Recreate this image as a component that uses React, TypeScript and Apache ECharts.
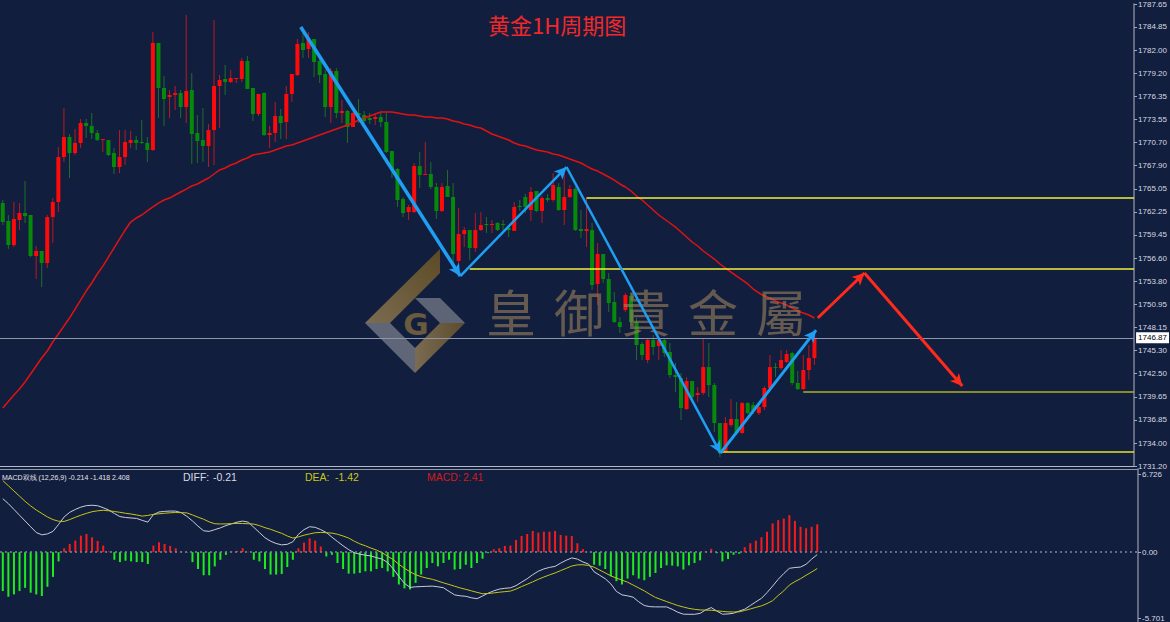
import React, { useEffect, useRef } from 'react';
import * as echarts from 'echarts';

// ---------- DATA ----------
const priceTicks = [1731.2, 1734.0, 1736.85, 1739.65, 1742.5, 1745.3, 1748.15, 1750.95, 1753.8, 1756.6, 1759.45, 1762.25, 1765.05, 1767.9, 1770.7, 1773.55, 1776.35, 1779.2, 1782.0, 1784.85, 1787.65];
const macdTicks = [-5.701, 0, 6.726];
const currentPrice = 1746.87;

// [open, high, low, close]
const candles: number[][] = [
  [1763.33, 1763.70, 1760.64, 1761.01], [1761.13, 1761.87, 1757.71, 1758.20], [1758.20, 1763.46, 1757.96, 1761.38], [1761.26, 1763.33, 1760.03, 1762.11], [1762.11, 1766.02, 1760.89, 1761.74],
  [1761.87, 1761.87, 1756.73, 1756.86], [1756.86, 1758.08, 1754.05, 1757.47], [1757.47, 1757.47, 1753.07, 1756.00], [1756.00, 1761.87, 1755.39, 1761.62], [1761.62, 1763.94, 1758.45, 1763.46],
  [1763.46, 1770.18, 1762.23, 1768.95], [1768.95, 1774.94, 1768.34, 1771.40], [1771.40, 1771.77, 1766.39, 1769.44], [1769.44, 1772.38, 1769.20, 1770.67], [1770.67, 1773.60, 1770.05, 1773.11],
  [1773.11, 1773.60, 1771.28, 1772.74], [1772.74, 1774.33, 1771.15, 1771.89], [1771.89, 1772.25, 1770.91, 1771.03], [1771.03, 1771.15, 1769.57, 1771.15], [1771.03, 1771.03, 1769.08, 1769.20],
  [1769.44, 1770.05, 1766.88, 1767.73], [1767.73, 1772.25, 1767.00, 1768.95], [1768.95, 1772.25, 1767.98, 1770.79], [1770.67, 1772.13, 1770.05, 1771.03], [1771.03, 1771.52, 1769.81, 1770.67],
  [1770.79, 1773.48, 1770.54, 1770.67], [1770.67, 1771.40, 1768.34, 1769.81], [1769.81, 1784.23, 1769.70, 1782.89], [1782.89, 1782.89, 1773.72, 1777.39], [1777.39, 1778.85, 1772.74, 1776.04],
  [1776.29, 1777.14, 1773.72, 1776.53], [1776.53, 1777.63, 1774.70, 1776.77], [1776.77, 1777.14, 1773.72, 1775.06], [1775.06, 1786.31, 1773.11, 1777.02], [1777.14, 1779.22, 1768.10, 1771.77],
  [1771.89, 1774.09, 1768.22, 1770.91], [1771.03, 1774.94, 1768.34, 1770.30], [1770.30, 1772.99, 1767.73, 1772.25], [1772.25, 1785.70, 1767.98, 1777.63], [1777.63, 1778.97, 1772.50, 1778.36],
  [1778.49, 1780.20, 1776.53, 1778.12], [1778.12, 1779.59, 1778.00, 1778.61], [1778.49, 1778.61, 1778.00, 1778.61], [1778.49, 1781.05, 1778.12, 1780.69], [1780.69, 1781.30, 1777.26, 1777.26],
  [1777.39, 1777.39, 1773.35, 1774.21], [1774.21, 1776.65, 1773.96, 1776.65], [1776.77, 1776.90, 1771.52, 1771.64], [1771.64, 1772.74, 1770.05, 1771.89], [1771.89, 1775.68, 1770.79, 1773.96],
  [1773.96, 1774.82, 1771.15, 1773.11], [1773.23, 1777.63, 1771.15, 1776.65], [1776.65, 1779.10, 1775.68, 1779.10], [1778.97, 1783.37, 1778.85, 1782.76], [1782.89, 1784.11, 1781.05, 1782.03],
  [1782.15, 1784.23, 1781.05, 1783.37], [1783.37, 1783.37, 1778.73, 1780.56], [1780.69, 1781.17, 1778.00, 1778.97], [1779.10, 1779.59, 1773.84, 1775.06], [1775.06, 1779.83, 1773.11, 1779.46],
  [1779.46, 1779.83, 1773.72, 1774.33], [1774.33, 1775.92, 1773.11, 1774.58], [1774.58, 1774.70, 1770.67, 1772.62], [1772.62, 1774.45, 1772.62, 1774.33], [1774.33, 1776.04, 1773.11, 1774.09],
  [1774.09, 1774.58, 1773.11, 1773.35], [1773.72, 1774.33, 1772.99, 1773.48], [1773.60, 1774.21, 1772.87, 1773.84], [1773.84, 1774.33, 1772.62, 1773.23], [1773.23, 1774.33, 1769.44, 1769.57],
  [1769.69, 1769.69, 1766.39, 1767.49], [1767.49, 1767.61, 1762.85, 1763.70], [1763.82, 1764.07, 1761.62, 1762.11], [1762.23, 1763.09, 1761.26, 1762.85], [1762.23, 1768.22, 1762.11, 1767.85],
  [1767.85, 1769.57, 1765.17, 1766.76], [1766.76, 1770.79, 1766.76, 1766.88], [1766.88, 1768.34, 1765.04, 1765.29], [1765.29, 1765.78, 1761.38, 1762.36], [1762.36, 1765.78, 1762.23, 1765.29],
  [1765.41, 1767.37, 1764.07, 1764.07], [1764.07, 1765.78, 1756.00, 1757.10], [1756.25, 1762.72, 1755.51, 1759.54], [1759.54, 1760.40, 1757.96, 1760.03], [1760.03, 1760.03, 1756.37, 1757.83],
  [1757.83, 1762.11, 1757.35, 1760.03], [1760.03, 1762.23, 1759.91, 1760.64], [1760.77, 1761.62, 1759.67, 1760.64], [1760.64, 1761.26, 1759.67, 1760.77], [1760.89, 1761.01, 1759.91, 1760.03],
  [1760.77, 1761.26, 1760.03, 1760.64], [1760.28, 1760.64, 1759.18, 1760.03], [1759.91, 1763.46, 1759.91, 1762.85], [1762.97, 1763.70, 1762.36, 1762.85], [1764.07, 1764.43, 1762.11, 1762.85],
  [1762.48, 1765.29, 1761.13, 1764.68], [1764.80, 1764.80, 1762.23, 1762.36], [1762.36, 1764.19, 1760.89, 1763.94], [1763.94, 1764.43, 1763.46, 1763.70], [1763.70, 1767.00, 1763.46, 1765.53],
  [1765.29, 1765.78, 1762.36, 1762.48], [1762.48, 1767.37, 1760.64, 1764.07], [1764.07, 1765.53, 1763.94, 1765.04], [1765.04, 1765.29, 1759.91, 1760.03], [1760.16, 1762.48, 1759.06, 1759.91],
  [1759.91, 1763.94, 1757.96, 1760.16], [1760.03, 1760.89, 1752.70, 1753.31], [1753.44, 1758.45, 1750.87, 1757.10], [1757.10, 1757.10, 1753.56, 1754.05], [1754.05, 1754.78, 1750.01, 1751.11],
  [1751.24, 1752.46, 1748.67, 1748.79], [1748.79, 1749.40, 1747.45, 1748.18], [1750.26, 1752.34, 1750.01, 1752.09], [1751.97, 1752.34, 1748.42, 1748.79], [1748.79, 1749.28, 1744.15, 1745.98],
  [1746.10, 1746.35, 1744.15, 1744.76], [1744.15, 1746.71, 1743.78, 1746.59], [1746.59, 1747.20, 1744.76, 1745.74], [1745.86, 1746.96, 1744.15, 1746.59], [1746.59, 1746.84, 1744.51, 1745.00],
  [1745.13, 1746.23, 1741.95, 1742.32], [1742.32, 1743.78, 1740.24, 1742.07], [1741.95, 1742.56, 1736.82, 1738.28], [1738.16, 1742.07, 1738.04, 1741.58], [1741.58, 1741.58, 1739.26, 1739.63],
  [1739.87, 1740.85, 1739.02, 1740.12], [1740.12, 1746.71, 1739.87, 1743.29], [1743.29, 1746.23, 1739.63, 1741.09], [1741.09, 1741.34, 1735.35, 1736.45], [1736.45, 1736.45, 1732.29, 1732.78],
  [1732.91, 1737.18, 1732.78, 1736.45], [1736.21, 1739.38, 1735.96, 1736.94], [1736.94, 1739.02, 1734.98, 1735.23], [1735.23, 1739.02, 1735.11, 1738.89], [1738.89, 1739.02, 1737.55, 1737.67],
  [1738.65, 1739.02, 1737.55, 1737.91], [1737.67, 1738.65, 1737.43, 1738.40], [1738.40, 1740.97, 1738.04, 1740.73], [1740.73, 1744.76, 1740.48, 1743.29], [1743.29, 1743.78, 1742.07, 1743.17],
  [1743.17, 1745.37, 1742.93, 1744.15], [1743.90, 1745.37, 1743.78, 1744.88], [1745.00, 1745.13, 1741.09, 1741.34], [1741.34, 1742.81, 1740.48, 1740.60], [1740.60, 1744.76, 1740.48, 1742.93],
  [1742.93, 1745.98, 1741.71, 1744.39], [1744.39, 1747.57, 1743.54, 1746.87],
];

const ma = [1738.28, 1739.08, 1739.87, 1740.60, 1741.46, 1742.44, 1743.42, 1744.39, 1745.25, 1746.35,
  1747.33, 1748.30, 1749.28, 1750.38, 1751.48, 1752.58, 1753.56, 1754.66, 1755.63, 1756.73,
  1757.83, 1758.93, 1760.03, 1761.01, 1761.50, 1761.87, 1762.36, 1762.85, 1763.33, 1763.70,
  1763.94, 1764.31, 1764.68, 1765.04, 1765.41, 1765.66, 1766.02, 1766.39, 1766.88, 1767.37,
  1767.61, 1767.98, 1768.22, 1768.59, 1768.83, 1769.20, 1769.32, 1769.44, 1769.57, 1769.81,
  1770.05, 1770.30, 1770.42, 1770.67, 1770.91, 1771.15, 1771.40, 1771.64, 1771.89, 1772.13,
  1772.38, 1772.62, 1772.87, 1773.11, 1773.48, 1773.72, 1773.96, 1774.21, 1774.45, 1774.45,
  1774.45, 1774.33, 1774.21, 1774.09, 1774.09, 1773.96, 1773.84, 1773.84, 1773.72, 1773.72,
  1773.60, 1773.35, 1773.23, 1772.99, 1772.87, 1772.62, 1772.50, 1772.13, 1771.77, 1771.52,
  1771.28, 1771.03, 1770.67, 1770.42, 1770.30, 1770.05, 1769.81, 1769.69, 1769.57, 1769.32,
  1769.20, 1768.95, 1768.71, 1768.47, 1768.22, 1767.85, 1767.49, 1767.24, 1766.88, 1766.51,
  1766.14, 1765.66, 1765.29, 1764.80, 1764.19, 1763.70, 1763.09, 1762.48, 1761.87, 1761.38,
  1760.89, 1760.40, 1759.79, 1759.18, 1758.57, 1758.08, 1757.47, 1756.98, 1756.49, 1755.88,
  1755.39, 1754.90, 1754.41, 1753.93, 1753.44, 1752.82, 1752.34, 1751.97, 1751.73, 1751.36,
  1751.11, 1750.87, 1750.50, 1750.14, 1749.89, 1749.65, 1749.28];

const macdHist = [-3.37, -3.86, -3.66, -3.37, -3.09, -3.51, -3.66, -3.80, -3.00, -2.14,
  -0.80, 0.34, 0.71, 1.00, 1.43, 1.57, 1.29, 0.97, 0.57, 0.06,
  -0.66, -0.86, -0.74, -0.80, -0.86, -0.86, -1.03, 0.57, 0.86, 0.71,
  0.54, 0.34, 0.06, -0.03, -0.86, -1.46, -2.00, -2.00, -1.23, -0.66,
  -0.23, 0.06, 0.11, 0.34, 0.03, -0.66, -0.80, -1.46, -1.94, -1.94,
  -1.89, -1.29, -0.66, 0.34, 0.83, 1.20, 1.00, 0.49, -0.37, -0.23,
  -0.94, -1.46, -1.86, -1.86, -1.80, -1.66, -1.66, -1.46, -1.37, -1.66,
  -2.14, -2.80, -3.14, -3.23, -2.66, -1.94, -1.37, -0.94, -1.23, -0.94,
  -0.66, -1.51, -1.46, -1.09, -1.37, -0.94, -0.57, -0.09, 0.26, 0.34,
  0.54, 0.57, 1.06, 1.40, 1.57, 1.83, 1.69, 1.77, 1.77, 1.83,
  1.49, 1.43, 1.40, 0.77, 0.26, 0.03, -1.09, -1.17, -1.46, -2.09,
  -2.51, -2.80, -2.29, -2.00, -2.29, -2.43, -2.14, -1.80, -1.37, -1.14,
  -1.17, -1.23, -1.51, -1.14, -0.94, -0.71, 0.06, 0.29, -0.09, -0.80,
  -0.60, -0.23, -0.14, 0.43, 0.77, 1.00, 1.29, 1.77, 2.49, 2.77,
  2.91, 3.20, 2.71, 2.20, 2.06, 2.20, 2.41];

const diff = [4.63, 4.20, 3.70, 3.20, 2.70, 2.20, 1.70, 1.50, 1.58, 1.80,
  2.40, 3.05, 3.45, 3.70, 3.90, 4.03, 4.06, 4.02, 3.85, 3.65,
  3.35, 3.08, 3.00, 2.96, 2.92, 2.75, 2.60, 3.25, 3.48, 3.53,
  3.56, 3.55, 3.42, 3.10, 2.70, 2.25, 1.85, 1.80, 1.95, 2.10,
  2.30, 2.45, 2.60, 2.69, 2.60, 2.15, 1.70, 1.25, 0.95, 0.75,
  0.63, 0.68, 0.90, 1.55, 1.95, 2.20, 2.15, 1.95, 1.70, 1.30,
  0.92, 0.55, 0.22, -0.05, -0.18, -0.26, -0.33, -0.48, -0.60, -0.90,
  -1.45, -2.10, -2.70, -3.05, -3.00, -2.98, -2.96, -2.94, -3.00, -3.08,
  -3.40, -3.70, -3.78, -3.82, -3.95, -4.03, -3.80, -3.55, -3.35, -3.20,
  -3.13, -3.09, -2.90, -2.60, -2.30, -1.95, -1.65, -1.45, -1.32, -1.23,
  -0.95, -0.70, -0.50, -0.60, -0.85, -1.03, -1.70, -2.00, -2.30, -2.75,
  -3.40, -3.70, -3.78, -3.90, -4.30, -4.62, -4.72, -4.74, -4.74, -4.74,
  -4.95, -5.20, -5.37, -5.38, -5.38, -5.30, -5.00, -4.80, -5.10, -5.37,
  -5.35, -5.29, -5.10, -4.94, -4.62, -4.30, -4.00, -3.50, -2.94, -2.35,
  -1.85, -1.40, -1.33, -1.29, -1.05, -0.60, -0.21];

const dea = [6.20, 5.75, 5.30, 4.85, 4.40, 4.00, 3.65, 3.35, 3.05, 2.82,
  2.68, 2.66, 2.82, 3.02, 3.20, 3.36, 3.50, 3.58, 3.63, 3.58,
  3.52, 3.45, 3.37, 3.30, 3.22, 3.12, 3.18, 3.27, 3.32, 3.37,
  3.41, 3.43, 3.42, 3.40, 3.22, 3.03, 2.85, 2.62, 2.46, 2.44,
  2.45, 2.47, 2.49, 2.48, 2.46, 2.43, 2.30, 2.12, 1.98, 1.80,
  1.63, 1.40, 1.22, 1.32, 1.47, 1.58, 1.68, 1.71, 1.68, 1.65,
  1.55, 1.40, 1.22, 0.95, 0.72, 0.55, 0.35, 0.18, -0.05, -0.35,
  -0.65, -1.05, -1.40, -1.70, -1.95, -2.12, -2.25, -2.35, -2.50, -2.66,
  -2.80, -2.95, -3.10, -3.22, -3.35, -3.48, -3.60, -3.58, -3.53, -3.47,
  -3.42, -3.37, -3.20, -2.98, -2.78, -2.57, -2.35, -2.15, -1.97, -1.80,
  -1.60, -1.40, -1.20, -1.10, -1.09, -1.15, -1.30, -1.55, -1.80, -2.05,
  -2.25, -2.42, -2.60, -2.85, -3.10, -3.35, -3.65, -3.92, -4.10, -4.28,
  -4.45, -4.62, -4.75, -4.87, -4.95, -5.00, -5.02, -5.03, -5.08, -5.13,
  -5.17, -5.18, -5.17, -5.05, -4.92, -4.78, -4.65, -4.45, -4.20, -3.75,
  -3.35, -2.85, -2.55, -2.30, -2.00, -1.72, -1.42];

// annotation points: [bar index, price]
const zigzagPoints = [[53.6, 1784.84], [82.3, 1754.41], [101.4, 1767.73], [129.1, 1732.78], [146.3, 1747.81]];
const forecastPoints = [[146.6, 1749.28], [155.0, 1754.78], [172.6, 1740.97]];
// [start bar index, price]
const levels = [[105, 1763.94], [84, 1755.27], [144, 1740.24], [129, 1733.0]];

const X_MIN = -0.5;
const X_MAX = 203.5;

// ---------- STYLE ----------
const BG = '#121E3E';
const NARROW = "'Liberation Sans Narrow', 'Liberation Sans', sans-serif";
const levelColors = ['#F2F23A', '#F2F23A', '#B0B024', '#E4E42C'];
const zigzagWidths = [3.5, 2.5, 2.5, 3];

function buildOption() {
  const candleData = candles.map((c, i) => [i, c[0], c[1], c[2], c[3]]);
  const maData = ma.map((v, i) => [i, v]);
  const histData = macdHist.map((v, i) => ({
    value: [i, v],
    itemStyle: { color: v >= 0 ? '#F41C1C' : '#1CEB1C' },
  }));
  const diffData = diff.map((v, i) => [i, v]);
  const deaData = dea.map((v, i) => [i, v]);

  const zigzagLines = zigzagPoints.slice(1).map((p, i) => [
    { coord: zigzagPoints[i], lineStyle: { width: zigzagWidths[i], color: '#1E9FF2', type: 'solid' } },
    { coord: p },
  ]);
  const forecastLines = forecastPoints.slice(1).map((p, i) => [
    { coord: forecastPoints[i], lineStyle: { width: 3, color: '#FF2A1A', type: 'solid' } },
    { coord: p },
  ]);
  const levelLines = levels.map((l, i) => [
    { coord: [l[0], l[1]], lineStyle: { color: levelColors[i], width: 1.6, type: 'solid' } },
    { coord: [X_MAX, l[1]] },
  ]);

  const wmChars = ['皇', '御', '貴', '金', '屬'];
  const wmX = [511, 579, 646, 713, 781];

  return {
    animation: false,
    backgroundColor: BG,
    title: {
      text: '黄金1H周期图',
      left: 483,
      top: 8,
      textStyle: { color: '#F22828', fontSize: 22, fontWeight: 'normal', fontFamily: "'Noto Sans CJK SC', sans-serif" },
    },
    grid: [
      { left: -2.8, right: 32, top: 4, height: 462 },
      { left: -2.8, right: 32, top: 469, height: 153 },
    ],
    xAxis: [
      {
        type: 'value', gridIndex: 0, min: X_MIN, max: X_MAX, position: 'bottom',
        axisLine: { show: true, onZero: false, lineStyle: { color: '#B4B9C6', width: 1 } },
        axisTick: { show: false }, axisLabel: { show: false }, splitLine: { show: false },
      },
      {
        type: 'value', gridIndex: 1, min: X_MIN, max: X_MAX, position: 'top',
        axisLine: { show: true, onZero: false, lineStyle: { color: '#8E95A6', width: 1 } },
        axisTick: { show: false }, axisLabel: { show: false }, splitLine: { show: false },
      },
    ],
    yAxis: [
      {
        type: 'value', gridIndex: 0, position: 'right', min: 1731.2, max: 1787.65, scale: true,
        axisLine: { show: true, onZero: false, lineStyle: { color: '#7D8598', width: 1.5 } },
        axisTick: { show: true, length: 3, customValues: priceTicks, lineStyle: { color: '#A3A9B8' } },
        axisLabel: {
          customValues: priceTicks, showMinLabel: true, showMaxLabel: true,
          formatter: (v: number) => v.toFixed(2), color: '#D6DAE2', fontSize: 8, fontFamily: NARROW, margin: 4,
        },
        splitLine: { show: false },
      },
      {
        type: 'value', gridIndex: 1, position: 'right', min: -6.04, max: 7.2,
        axisLine: { show: true, onZero: false, lineStyle: { color: '#7D8598', width: 1.5 } },
        axisTick: { show: true, length: 3, customValues: macdTicks, lineStyle: { color: '#A3A9B8' } },
        axisLabel: {
          customValues: macdTicks, showMinLabel: true, showMaxLabel: true,
          formatter: (v: number) => (v === 0 ? '0.00' : String(v)), color: '#D6DAE2', fontSize: 8, fontFamily: NARROW, margin: 4,
        },
        splitLine: { show: false },
      },
    ],
    graphic: [
      // logo
      { type: 'polygon', z: 5, shape: { points: [[440, 249], [440, 273], [390, 323], [365, 323]] },
        style: { fill: new echarts.graphic.LinearGradient(0, 1, 1, 0, [{ offset: 0, color: '#7C6C50' }, { offset: 1, color: '#5C4A26' }]) } },
      { type: 'polygon', z: 5, shape: { points: [[365, 323], [390, 323], [415, 348], [415, 373]] }, style: { fill: '#5E6678' } },
      { type: 'polygon', z: 5, shape: { points: [[415, 373], [415, 348], [440, 323], [465, 323]] },
        style: { fill: new echarts.graphic.LinearGradient(0, 0, 1, 0, [{ offset: 0, color: '#7A6B52' }, { offset: 1, color: '#5C4C2C' }]) } },
      { type: 'polygon', z: 5, shape: { points: [[465, 323], [440, 323], [415, 298], [440, 298]] }, style: { fill: '#5C6476' } },
      { type: 'text', z: 5, x: 416, y: 324, style: { text: 'G', fill: '#6A5A3E', font: "bold 31px 'DejaVu Sans', sans-serif", textAlign: 'center', textVerticalAlign: 'middle' } },
      // watermark text
      ...wmChars.map((ch, i) => ({
        type: 'text', z: 5, x: wmX[i], y: 310,
        style: { text: ch, fill: 'rgba(155,130,92,0.6)', font: "50px 'Noto Sans CJK TC', sans-serif", textAlign: 'center', textVerticalAlign: 'middle' },
      })),
      // MACD header
      { type: 'text', z: 6, x: 2, y: 477, style: { text: 'MACD双线 (12,26,9) -0.214 -1.418 2.408', fill: '#E2E4EA', font: `7px ${NARROW}`, textVerticalAlign: 'middle' } },
      { type: 'text', z: 6, x: 183, y: 477, style: { text: 'DIFF:', fill: '#D8DAE2', font: `10.5px ${NARROW}`, textVerticalAlign: 'middle' } },
      { type: 'text', z: 6, x: 213, y: 477, style: { text: '-0.21', fill: '#D8DAE2', font: `10.5px ${NARROW}`, textVerticalAlign: 'middle' } },
      { type: 'text', z: 6, x: 305, y: 477, style: { text: 'DEA:', fill: '#C8C814', font: `10.5px ${NARROW}`, textVerticalAlign: 'middle' } },
      { type: 'text', z: 6, x: 335, y: 477, style: { text: '-1.42', fill: '#C8C814', font: `10.5px ${NARROW}`, textVerticalAlign: 'middle' } },
      { type: 'text', z: 6, x: 427, y: 477, style: { text: 'MACD:', fill: '#D41A1A', font: `10.5px ${NARROW}`, textVerticalAlign: 'middle' } },
      { type: 'text', z: 6, x: 463, y: 477, style: { text: '2.41', fill: '#D41A1A', font: `10.5px ${NARROW}`, textVerticalAlign: 'middle' } },
    ],
    series: [
      {
        name: 'K', type: 'custom', xAxisIndex: 0, yAxisIndex: 0, z: 2, clip: true,
        data: candleData,
        encode: { x: 0, y: [1, 2, 3, 4] },
        renderItem: (params: any, api: any) => {
          const k = api.value(0);
          const o = api.value(1);
          const h = api.value(2);
          const l = api.value(3);
          const c = api.value(4);
          const pO = api.coord([k, o]);
          const pC = api.coord([k, c]);
          const pH = api.coord([k, h]);
          const pL = api.coord([k, l]);
          const up = c >= o;
          const bw = 4;
          const top = Math.min(pO[1], pC[1]);
          const hgt = Math.max(1, Math.abs(pO[1] - pC[1]));
          return {
            type: 'group',
            children: [
              { type: 'line', shape: { x1: pH[0], y1: pH[1], x2: pL[0], y2: pL[1] }, style: { stroke: up ? '#B81A22' : '#1F6E2A', lineWidth: 1 } },
              { type: 'rect', shape: { x: pO[0] - bw / 2, y: top, width: bw, height: hgt }, style: { fill: up ? '#FF0A0A' : '#078A0A' } },
            ],
          };
        },
      },
      {
        name: 'MA', type: 'line', xAxisIndex: 0, yAxisIndex: 0, z: 3, data: maData, symbol: 'none',
        lineStyle: { color: '#E21212', width: 1.5 }, silent: true,
      },
      {
        name: 'levels', type: 'line', xAxisIndex: 0, yAxisIndex: 0, z: 4, data: [], silent: true,
        markLine: { silent: true, symbol: ['none', 'none'], label: { show: false }, emphasis: { disabled: true }, data: levelLines },
      },
      {
        name: 'price', type: 'line', xAxisIndex: 0, yAxisIndex: 0, z: 6, data: [], silent: true,
        markLine: {
          silent: true, symbol: ['none', 'none'], emphasis: { disabled: true },
          lineStyle: { color: '#8E96AA', width: 1, type: 'solid' },
          label: {
            show: true, position: 'end', distance: 2, formatter: currentPrice.toFixed(2),
            color: '#000', backgroundColor: '#FFFFFF', padding: [2, 2, 1, 2], fontSize: 8, fontFamily: NARROW,
          },
          data: [{ yAxis: currentPrice }],
        },
      },
      {
        name: 'zigzag', type: 'line', xAxisIndex: 0, yAxisIndex: 0, z: 10, data: [], silent: true,
        markLine: { silent: true, symbol: ['none', 'arrow'], symbolSize: [9, 12], label: { show: false }, emphasis: { disabled: true }, data: zigzagLines },
      },
      {
        name: 'forecast', type: 'line', xAxisIndex: 0, yAxisIndex: 0, z: 10, data: [], silent: true,
        markLine: { silent: true, symbol: ['none', 'arrow'], symbolSize: [9, 12], label: { show: false }, emphasis: { disabled: true }, data: forecastLines },
      },
      {
        name: 'MACD', type: 'bar', xAxisIndex: 1, yAxisIndex: 1, z: 2, barWidth: 2, data: histData, silent: true,
        markLine: {
          silent: true, symbol: ['none', 'none'], label: { show: false }, emphasis: { disabled: true },
          lineStyle: { color: '#7E8598', width: 1.5, type: [2, 3] }, data: [{ yAxis: 0 }],
        },
      },
      {
        name: 'DIFF', type: 'line', xAxisIndex: 1, yAxisIndex: 1, z: 3, data: diffData, symbol: 'none', silent: true,
        lineStyle: { color: '#C9CDD9', width: 1 },
      },
      {
        name: 'DEA', type: 'line', xAxisIndex: 1, yAxisIndex: 1, z: 3, data: deaData, symbol: 'none', silent: true,
        lineStyle: { color: '#C6C616', width: 1 },
      },
    ],
  };
}

export default function App() {
  const ref = useRef<HTMLDivElement>(null);
  useEffect(() => {
    if (!ref.current) return;
    const chart = echarts.init(ref.current, null, { renderer: 'svg' });
    chart.setOption(buildOption() as any);
    return () => chart.dispose();
  }, []);
  return <div ref={ref} style={{ position: 'fixed', left: 0, top: 0, width: 1170, height: 622 }} />;
}
